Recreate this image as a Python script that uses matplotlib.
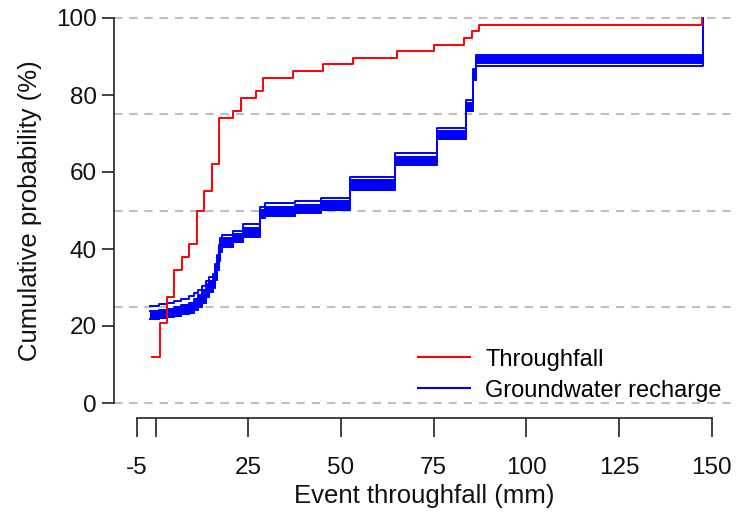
import matplotlib
matplotlib.use("Agg")
import matplotlib.pyplot as plt
from matplotlib.lines import Line2D

plt.rcParams['font.family'] = ['Liberation Sans', 'DejaVu Sans']

# Throughfall ECDF (step positions, mm) and cumulative probability (%)
tf_x = [-1.06, 1.18, 2.98, 4.95, 7.03, 9.08, 11.07, 13.12, 15.12, 17.09, 20.94,
        23.02, 27.07, 29.03, 36.96, 45.05, 53.14, 65.17, 75.15, 83.08, 85.24,
        87.2, 147.3]
tf_y = [12.07, 20.69, 27.59, 34.48, 37.93, 41.38, 50.0, 55.17, 62.07, 74.14,
        75.86, 79.31, 81.03, 84.48, 86.21, 87.93, 89.66, 91.38, 93.10, 94.83,
        96.55, 98.28, 100.0]

# Groundwater recharge ECDF realisations (shared step positions)
gw_x = [-1.5, 1, 3, 5, 7, 9, 10.5, 11.5, 12.5, 13.5, 14.5, 15.5, 16.0, 16.5,
        17.0, 17.4, 17.8, 20.9, 23.6, 28.1, 29.5, 37.6, 44.5, 52.4, 64.5,
        75.8, 83.7, 85.7, 86.3, 147.7]
gw_upper = [25.3, 25.6, 26.0, 26.5, 27.0, 27.7, 28.5, 29.3, 30.5, 31.8, 32.8,
            33.5, 36.0, 38.5, 41.0, 42.8, 43.6, 44.6, 46.6, 51.0, 51.9, 52.4,
            53.3, 58.8, 65.0, 71.5, 78.7, 86.7, 90.3, 100.0]
gw_band_top = [23.8, 24.1, 24.5, 25.0, 25.4, 26.1, 27.0, 28.0, 29.3, 30.8,
               31.8, 32.6, 35.0, 37.5, 40.0, 42.0, 42.9, 43.9, 45.5, 50.2,
               50.8, 51.5, 52.4, 57.8, 64.0, 70.6, 78.0, 86.2, 90.0, 100.0]
gw_band_bottom = [21.7, 22.0, 22.3, 22.7, 23.0, 23.5, 24.2, 25.0, 26.0, 27.6,
                  28.8, 29.8, 32.0, 34.5, 37.0, 39.2, 40.6, 41.7, 43.2, 48.0,
                  48.5, 49.4, 50.2, 55.4, 61.9, 68.6, 75.8, 84.0, 88.4, 100.0]
gw_lower = [21.7, 22.0, 22.3, 22.7, 23.0, 23.5, 24.2, 25.0, 26.0, 27.6,
            28.8, 29.8, 32.0, 34.5, 37.0, 39.2, 40.6, 41.7, 43.2, 48.0,
            48.5, 49.4, 50.2, 55.4, 61.9, 68.6, 75.8, 84.0, 87.6, 100.0]

grid_levels = [0, 25, 50, 75, 100]
x_ticks = [-5, 0, 25, 50, 75, 100, 125, 150]
x_ticklabels = ['-5', '', '25', '50', '75', '100', '125', '150']
y_ticks = [0, 20, 40, 60, 80, 100]

FS_TICK = 17.5
FS_LAB = 18.5
FS_LEG = 17

fig = plt.figure(figsize=(7.36, 5.14), dpi=100)
ax = fig.add_axes([114/736, 1 - 418.4/514, 620.8/736, 415.8/514])
ax.set_xlim(-11.2, 156.2)
ax.set_ylim(-4, 104)

for g in grid_levels:
    ax.axhline(g, color='#BEBEBE', lw=1.5, dashes=(4, 3.3), zorder=1)

RED = '#FF0000'
BLUE = '#0000FF'
lw = 1.4

ax.fill_between(gw_x, gw_band_bottom, gw_band_top, step='post',
                color=BLUE, lw=0, zorder=2)
for s in (gw_upper, gw_band_top, gw_band_bottom, gw_lower):
    ax.step(gw_x, s, where='post', color=BLUE, lw=lw, zorder=3)

ax.step(tf_x, tf_y, where='post', color=RED, lw=lw, zorder=4)

for side in ('top', 'right'):
    ax.spines[side].set_visible(False)
ax.spines['left'].set_bounds(0, 100)
ax.spines['bottom'].set_bounds(-5, 150)
for side in ('left', 'bottom'):
    ax.spines[side].set_linewidth(1.2)
    ax.spines[side].set_color('#222222')

ax.set_xticks(x_ticks)
ax.set_xticklabels(x_ticklabels)
ax.set_yticks(y_ticks)
ax.tick_params(axis='both', which='major', labelsize=FS_TICK,
               width=1.2, color='#222222', labelcolor='#111111')
ax.tick_params(axis='x', length=14, pad=13.5)
ax.tick_params(axis='y', length=9, pad=3.5)

ax.set_xlabel('Event throughfall (mm)', fontsize=FS_LAB, color='#111111')
ax.xaxis.set_label_coords(0.5, -0.1866)
ax.xaxis.label.set_va('center')
ax.set_ylabel('Cumulative probability (%)', fontsize=FS_LAB, color='#111111')
ax.yaxis.set_label_coords(-0.1353, 0.5)
ax.yaxis.label.set_va('center')

handles = [Line2D([], [], color=RED, lw=1.5), Line2D([], [], color=BLUE, lw=1.5)]
ax.legend(handles, ['Throughfall', 'Groundwater recharge'], loc='center left',
          bbox_to_anchor=(0.49, 0.104), frameon=False, fontsize=FS_LEG,
          handlelength=2.2, handletextpad=0.64, labelspacing=0.38,
          borderpad=0, borderaxespad=0)

fig.savefig('out.png', dpi=100)
